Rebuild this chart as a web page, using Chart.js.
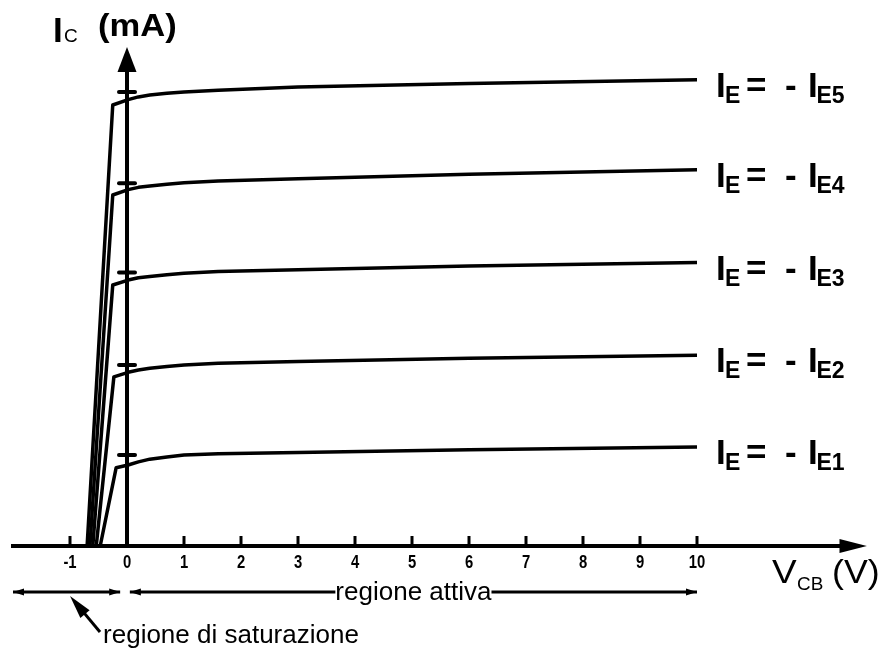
<!DOCTYPE html>
<html>
<head>
<meta charset="utf-8">
<title>Caratteristiche di uscita BJT - base comune</title>
<script src="https://cdn.jsdelivr.net/npm/chart.js@4.4.0/dist/chart.umd.min.js"></script>
<style>
body{margin:0;background:#fff;}
#wrap{width:888px;height:654px;}
</style>
</head>
<body>
<div id="wrap"><canvas id="grafico" width="888" height="654"></canvas></div>
<script>
// curve I_C (mA) in funzione di V_CB (V), una per ogni I_E
const vcb1=[-0.47,-0.19,0.02,0.2,0.4,0.7,1.0,1.6,3.0,6.0,10];
const ic1=[0,0.87,0.90,0.935,0.965,0.99,1.01,1.025,1.04,1.07,1.10];
const vcb2=[-0.54,-0.23,0.02,0.2,0.4,0.7,1.0,1.6,3.0,6.0,10];
const ic2=[0,1.88,1.93,1.955,1.975,1.995,2.01,2.03,2.05,2.085,2.12];
const vcb3=[-0.60,-0.25,0.02,0.2,0.4,0.7,1.0,1.6,3.0,6.0,10];
const ic3=[0,2.90,2.955,2.98,2.995,3.015,3.03,3.05,3.07,3.11,3.15];
const vcb4=[-0.65,-0.25,0.02,0.2,0.4,0.7,1.0,1.6,3.0,6.0,10];
const ic4=[0,3.90,3.96,3.985,4.0,4.02,4.035,4.055,4.08,4.13,4.18];
const vcb5=[-0.70,-0.25,0.02,0.2,0.4,0.7,1.0,1.6,3.0,6.0,10];
const ic5=[0,4.90,4.96,4.99,5.01,5.03,5.045,5.065,5.10,5.14,5.18];
const pedici=['E1','E2','E3','E4','E5'];

// assi
const xTicks=[-1,0,1,2,3,4,5,6,7,8,9,10];
const xTickLabels=['-1','0','1','2','3','4','5','6','7','8','9','10'];
const yMarks=[1.01,2.01,3.04,4.03,5.045];
const saturazione=[-2,-0.12];
const attiva=[0.05,10];

const curve=[[vcb1,ic1],[vcb2,ic2],[vcb3,ic3],[vcb4,ic4],[vcb5,ic5]];
const datasets=curve.map(function(c,i){
  return {
    label:'I'+pedici[i],
    data:c[0].map(function(v,k){return {x:v,y:c[1][k]};}),
    borderColor:'#000',
    borderWidth:3.5,
    borderJoinStyle:'round',
    pointRadius:0,
    fill:false,
    tension:0
  };
});

function linea(ctx,x1,y1,x2,y2){
  ctx.beginPath();ctx.moveTo(x1,y1);ctx.lineTo(x2,y2);ctx.stroke();
}
function punta(ctx,tx,ty,bx,by,w){
  // triangolo pieno con punta in (tx,ty) e base centrata in (bx,by)
  const dx=tx-bx,dy=ty-by,l=Math.sqrt(dx*dx+dy*dy);
  const nx=-dy/l*w,ny=dx/l*w;
  ctx.beginPath();ctx.moveTo(tx,ty);ctx.lineTo(bx+nx,by+ny);ctx.lineTo(bx-nx,by-ny);ctx.closePath();ctx.fill();
}
function testo(ctx,t,x,y,font,sx){
  ctx.save();ctx.font=font;ctx.translate(x,y);ctx.scale(sx||1,1);ctx.fillText(t,0,0);ctx.restore();
}

const assi={
  id:'assi',
  afterDraw(chart){
    const ctx=chart.ctx,xs=chart.scales.x,ys=chart.scales.y;
    const X=function(v){return xs.getPixelForValue(v);};
    const Y=function(v){return ys.getPixelForValue(v);};
    ctx.save();
    ctx.strokeStyle='#000';ctx.fillStyle='#000';
    ctx.textBaseline='alphabetic';
    // asse x
    ctx.lineWidth=4;
    linea(ctx,X(-2.035),Y(0),X(12.6),Y(0));
    punta(ctx,X(12.98),Y(0),X(12.5),Y(0),7);
    // asse y
    linea(ctx,X(0),Y(0),X(0),Y(5.3));
    punta(ctx,X(0),Y(5.544),X(0),Y(5.267),9.5);
    // tacche asse x
    ctx.lineWidth=3;
    xTicks.forEach(function(v){ if(v!==0) linea(ctx,X(v),Y(0),X(v),Y(0)-10); });
    // tacche asse y
    ctx.lineWidth=4;ctx.lineCap='round';
    yMarks.forEach(function(v){ linea(ctx,X(0)-8,Y(v),X(0)+8,Y(v)); });
    ctx.lineCap='butt';
    // etichette asse x
    const fTick="bold 19px 'Liberation Sans',sans-serif";
    xTicks.forEach(function(v,i){
      ctx.save();
      ctx.font=fTick;
      const w=ctx.measureText(xTickLabels[i]).width*0.78;
      ctx.restore();
      testo(ctx,xTickLabels[i],X(v)-w/2,Y(0)+22,fTick,0.78);
    });
    ctx.textAlign='left';
    // titoli assi
    testo(ctx,'I',X(0)-74,42,"bold 35px 'Liberation Sans'");
    testo(ctx,'C',X(0)-63,42,"19px 'Liberation Sans'");
    testo(ctx,'(mA)',X(0)-29,36,"bold 32px 'Liberation Sans'",1.08);
    testo(ctx,'V',772,583,"33px 'Liberation Sans'",1.12);
    testo(ctx,'CB',797,590,"18px 'Liberation Sans'",1.05);
    testo(ctx,'(V)',832,583,"34px 'Liberation Sans'",1.05);
    // etichette delle curve
    chart.data.datasets.forEach(function(ds,i){
      const pts=chart.getDatasetMeta(i).data;
      const p=pts[pts.length-1];
      const x0=p.x,y0=p.y;
      testo(ctx,'I',x0+19,y0+17,"bold 35px 'Liberation Sans'");
      testo(ctx,'E',x0+28,y0+23,"bold 23px 'Liberation Sans'");
      testo(ctx,'=',x0+49,y0+17,"bold 35px 'Liberation Sans'");
      testo(ctx,'-',x0+88,y0+17,"bold 35px 'Liberation Sans'");
      testo(ctx,'I',x0+111,y0+17,"bold 35px 'Liberation Sans'");
      testo(ctx,pedici[i],x0+119.5,y0+23,"bold 23px 'Liberation Sans'");
    });
    // regioni
    const yr=Y(-0.511);
    ctx.lineWidth=3;
    linea(ctx,X(saturazione[0]),yr,X(saturazione[1]),yr);
    punta(ctx,X(saturazione[0]),yr,X(saturazione[0])+11,yr,3.5);
    punta(ctx,X(saturazione[1]),yr,X(saturazione[1])-11,yr,3.5);
    linea(ctx,X(attiva[0]),yr,X(attiva[1]),yr);
    punta(ctx,X(attiva[0]),yr,X(attiva[0])+11,yr,3.5);
    punta(ctx,X(attiva[1]),yr,X(attiva[1])-11,yr,3.5);
    ctx.font="26px 'Liberation Sans'";
    const t='regione attiva';
    const w=ctx.measureText(t).width;
    const cx=X((attiva[0]+attiva[1])/2);
    ctx.fillStyle='#fff';
    ctx.fillRect(cx-w/2,yr-12,w,24);
    ctx.fillStyle='#000';
    ctx.fillText(t,cx-w/2,yr+8);
    // freccia verso la regione di saturazione
    const tx=X(-1.0),ty=Y(-0.556),bx=X(-0.474),by=Y(-0.956);
    ctx.lineWidth=3;
    linea(ctx,bx,by,tx+(bx-tx)*0.35,ty+(by-ty)*0.35);
    punta(ctx,tx,ty,tx+(bx-tx)*0.5,ty+(by-ty)*0.5,6);
    ctx.font="26px 'Liberation Sans'";
    ctx.fillText('regione di saturazione',X(-0.42),Y(-1.078));
    ctx.restore();
  }
};

new Chart(document.getElementById('grafico').getContext('2d'),{
  type:'line',
  data:{datasets:datasets},
  options:{
    responsive:false,
    animation:false,
    layout:{padding:{left:13,right:20,top:24,bottom:4.5}},
    scales:{
      x:{type:'linear',min:-2,max:13,display:false},
      y:{type:'linear',min:-1.15,max:5.8,display:false}
    },
    plugins:{legend:{display:false},tooltip:{enabled:false}}
  },
  plugins:[assi]
});
</script>
</body>
</html>
